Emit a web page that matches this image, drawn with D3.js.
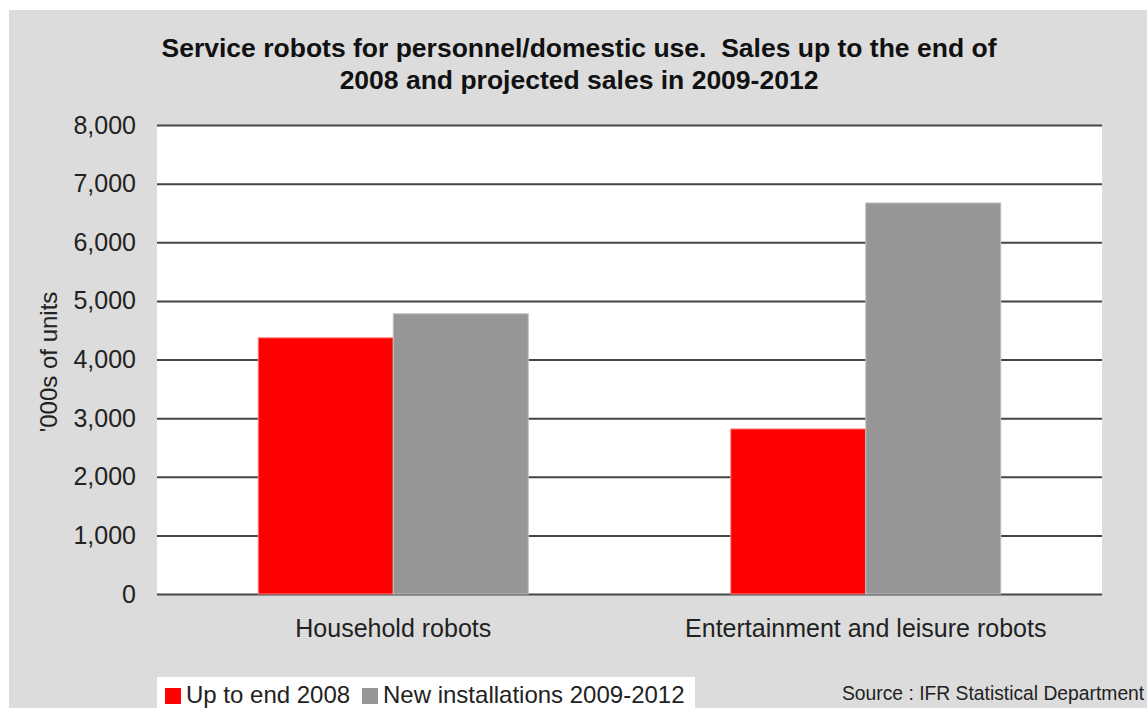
<!DOCTYPE html>
<html><head><meta charset="utf-8">
<script src="https://cdn.jsdelivr.net/npm/d3@7"></script>
<style>body{margin:0;background:#fff;}svg{display:block;font-family:"Liberation Sans",Arial,sans-serif;}</style>
</head><body>
<svg id="chart" width="1147" height="708"></svg>
<script>
const categories = ["Household robots", "Entertainment and leisure robots"];
const seriesNames = ["Up to end 2008", "New installations 2009-2012"];
const upTo2008 = [4370, 2815];
const newInstall = [4780, 6670];
const yTicks = [0, 1000, 2000, 3000, 4000, 5000, 6000, 7000, 8000];
const colors = ["#ff0000", "#969696"];

const svg = d3.select("#chart");
svg.append("rect").attr("x", 9).attr("y", 10).attr("width", 1147).attr("height", 708).attr("fill", "#dcdcdc");

const L = 157, R = 1102, T = 125, B = 594;
svg.append("rect").attr("x", L).attr("y", T).attr("width", R - L).attr("height", B - T).attr("fill", "#fff");

const y = d3.scaleLinear().domain([0, 8000]).range([B, T]);
const x0 = d3.scaleBand().domain(categories).range([L, R]).paddingInner(0.4286).paddingOuter(0.2143);
const x1 = d3.scaleBand().domain(seriesNames).range([0, x0.bandwidth()]);

// gridlines
const yAxis = d3.axisLeft(y).tickValues(yTicks).tickSize(-(R - L)).tickPadding(21).tickFormat(d3.format(","));
const ga = svg.append("g").attr("transform", `translate(${L},0)`).call(yAxis);
ga.select(".domain").remove();
ga.selectAll(".tick line").attr("stroke", "#454545").attr("stroke-width", 2);
ga.selectAll(".tick text").attr("font-size", 25).attr("fill", "#222").attr("font-family", "Liberation Sans, Arial, sans-serif");

const data = categories.map((c, i) => ({cat: c, vals: [upTo2008[i], newInstall[i]]}));
const g = svg.append("g");
data.forEach(d => {
  d.vals.forEach((v, j) => {
    g.append("rect")
      .attr("x", x0(d.cat) + x1(seriesNames[j]))
      .attr("y", y(v))
      .attr("width", x1.bandwidth())
      .attr("height", y(0) - y(v))
      .attr("fill", colors[j])
      .attr("stroke", j === 0 ? "#ff8080" : "#c0c0c0")
      .attr("stroke-width", 1);
  });
});

// category labels
const xAxis = d3.axisBottom(x0).tickSize(0).tickPadding(25);
const gx = svg.append("g").attr("transform", `translate(0,${B})`).call(xAxis);
gx.select(".domain").remove();
gx.selectAll(".tick text").attr("font-size", 25).attr("fill", "#222").attr("font-family", "Liberation Sans, Arial, sans-serif");

// y title
svg.append("text").attr("transform", "translate(57,362) rotate(-90)")
  .attr("text-anchor", "middle").attr("font-size", 24).attr("fill", "#222").text("'000s of units");

// title
const title = svg.append("text").attr("text-anchor", "middle").attr("font-size", 26.5).attr("font-weight", "bold").attr("fill", "#111");
title.append("tspan").attr("x", 579).attr("y", 57).text("Service robots for personnel/domestic use.\u00a0 Sales up to the end of");
title.append("tspan").attr("x", 579).attr("y", 89).text("2008 and projected sales in 2009-2012");

// legend
const lg = svg.append("g");
lg.append("rect").attr("x", 157).attr("y", 677).attr("width", 538).attr("height", 40).attr("fill", "#fff");
const lx = [165, 362];
seriesNames.forEach((n, i) => {
  lg.append("rect").attr("x", lx[i]).attr("y", 688).attr("width", 16).attr("height", 16).attr("fill", colors[i]);
  lg.append("text").attr("x", lx[i] + 21).attr("y", 703).attr("font-size", 24).attr("fill", "#222").text(n);
});

svg.append("text").attr("x", 842).attr("y", 700).attr("font-size", 19.3).attr("fill", "#222").text("Source : IFR Statistical Department");
</script>
</body></html>
